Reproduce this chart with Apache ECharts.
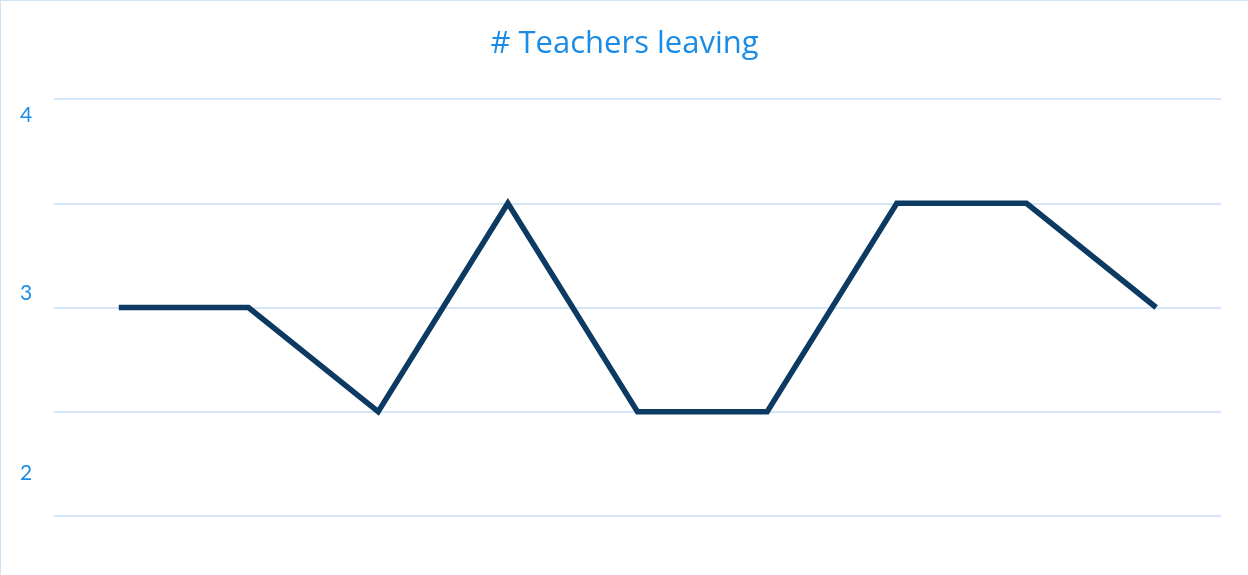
<!DOCTYPE html>
<html>
<head>
<meta charset="utf-8">
<script src="https://cdn.jsdelivr.net/npm/echarts@6/dist/echarts.min.js"></script>
<style>
  html, body { margin: 0; padding: 0; background: #ffffff; }
  #chart { position: absolute; left: 0; top: 0; width: 1247px; height: 574px;
           border-left: 1px solid #cfe2f6; border-top: 1px solid #cfe2f6; }
</style>
</head>
<body>
<div id="chart"></div>
<script>
// Periods along the x axis (no labels are shown for them)
const periods = ['P1', 'P2', 'P3', 'P4', 'P5', 'P6', 'P7', 'P8', 'P9'];
// Number of teachers leaving per period
const teachersLeaving = [3, 3, 2.5, 3.5, 2.5, 2.5, 3.5, 3.5, 3];
// Value axis settings and the tick labels that are printed
const yMin = 2, yMax = 4, yStep = 0.5;
const yTickLabels = [2, 3, 4];

const labelFont = { color: '#1a8ce6', fontSize: 21, fontFamily: 'Lato' };

const chart = echarts.init(document.getElementById('chart'));
chart.setOption({
  animation: false,
  title: {
    text: '# Teachers leaving',
    left: 'center',
    top: 23,
    textStyle: { color: '#1a8ce6', fontSize: 31, fontWeight: 'normal', fontFamily: 'Open Sans' }
  },
  grid: { left: 53, right: 27, top: 98, bottom: 59 },
  xAxis: {
    type: 'category',
    data: periods,
    boundaryGap: true,
    axisLine: { show: false },
    axisTick: { show: false },
    axisLabel: { show: false }
  },
  yAxis: {
    type: 'value',
    min: yMin,
    max: yMax,
    interval: yStep,
    axisLine: { show: false },
    axisTick: { show: false },
    splitLine: { lineStyle: { color: '#d3e5f7', width: 2 } },
    axisLabel: {
      margin: 28,
      align: 'center',
      formatter: function (v) {
        if (yTickLabels.indexOf(v) < 0) return '';
        return '{v' + v + '|' + v + '}';
      },
      rich: {
        v4: Object.assign({ padding: [32, 0, 0, 0] }, labelFont),
        v3: Object.assign({ padding: [0, 0, 28, 0] }, labelFont),
        v2: Object.assign({ padding: [0, 0, 86, 0] }, labelFont)
      }
    }
  },
  series: [{
    type: 'line',
    data: teachersLeaving,
    symbol: 'none',
    lineStyle: { color: '#0c3a63', width: 5.5, join: 'miter' }
  }]
});
</script>
</body>
</html>
